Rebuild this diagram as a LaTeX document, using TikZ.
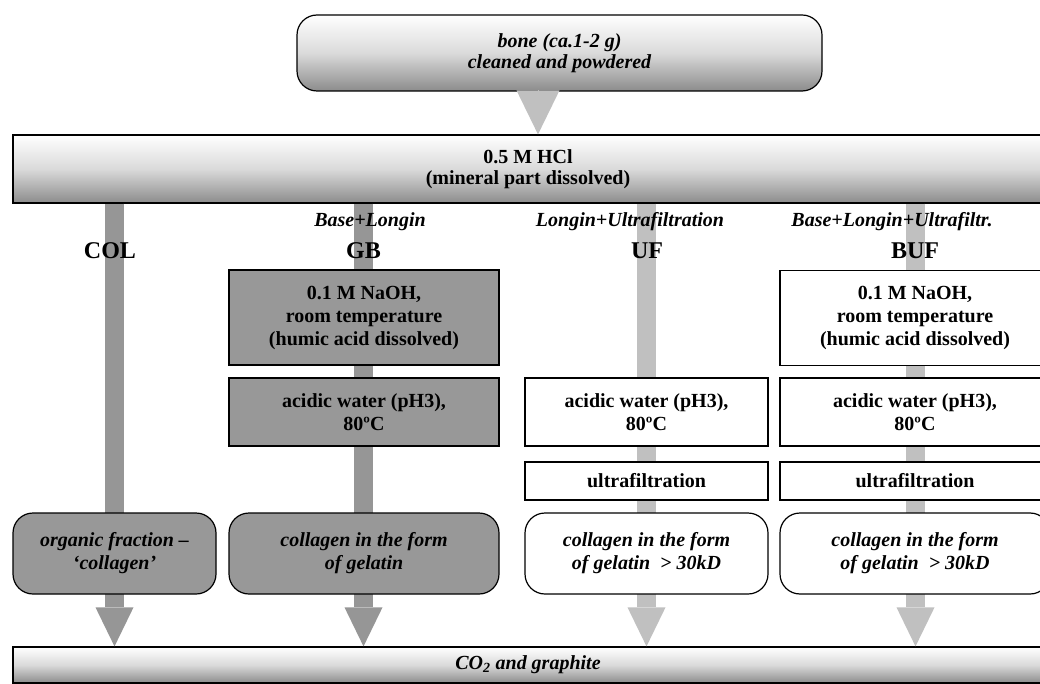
\documentclass[tikz,border=0pt]{standalone}
\usepackage{fontspec}
\setmainfont{Liberation Serif}
\usetikzlibrary{arrows.meta}

\definecolor{stemdark}{RGB}{150,150,150}
\definecolor{stemlight}{RGB}{192,192,192}
\definecolor{boxgray}{RGB}{152,152,152}
\definecolor{shadegray}{RGB}{140,140,140}
\definecolor{shademid}{RGB}{218,218,218}

\tikzset{
  bar/.style={draw,line width=1.2pt,top color=white,bottom color=shadegray,middle color=shademid,
    inner sep=0pt,align=center,font=\bfseries\fontsize{20}{21}\selectfont},
  stepbox/.style={draw,line width=1.2pt,fill=white,minimum height=68pt,inner sep=0pt,
    align=center,font=\bfseries\fontsize{20}{23}\selectfont},
  result/.style={stepbox,rounded corners=20pt,minimum height=81pt,
    font=\bfseries\itshape\fontsize{20}{23}\selectfont},
  tag/.style={anchor=base,inner sep=0pt,font=\bfseries\itshape\fontsize{20}{22}\selectfont},
  code/.style={anchor=base,inner sep=0pt,font=\bfseries\fontsize{24}{26}\selectfont},
  stem/.style={line width=19pt,-{Triangle[length=39pt,width=38pt,line width=0pt]}}
}

\begin{document}
\begin{tikzpicture}[x=1pt,y=-1pt]
  \useasboundingbox (0,0) rectangle (1040,684);
  \clip (0,0) rectangle (1040,684);

  \node[bar,rounded corners=20pt,minimum width=525pt,minimum height=76pt,
    font=\bfseries\itshape\fontsize{20}{21}\selectfont] (bone) at (559.5,53)
    {bone (ca.1-2 g)\\cleaned and powdered};
  \node[bar,minimum width=1030pt,minimum height=68pt] (hcl) at (528,169)
    {0.5 M HCl\\(mineral part dissolved)};
  \node[bar,minimum width=1030pt,minimum height=36pt] (co2) at (528,665)
    {\itshape CO\textsubscript{2} and graphite};

  \coordinate (drop) at (538,0);
  \coordinate (xcol) at (114.5,0);
  \coordinate (xgb) at (363.5,0);
  \coordinate (xuf) at (646.5,0);
  \coordinate (xbuf) at (915.5,0);

  \draw[stemlight,line width=0.5pt,-{Triangle[length=44pt,width=43pt,line width=0pt]}]
    (bone.south -| drop) -- (hcl.north -| drop);
  \foreach \x/\c in {xcol/stemdark,xgb/stemdark,xuf/stemlight,xbuf/stemlight}
    \draw[stem,\c] (hcl.south -| \x) -- (co2.north -| \x);

  \node[tag] (gbtag) at (370,227) {Base+Longin};
  \node[tag] (uftag) at (630,227) {Longin+Ultrafiltration};
  \node[tag] (buftag) at (892,227) {Base+Longin+Ultrafiltr.};
  \node[code] (col) at (110,259) {COL};
  \node[code] (gb) at (363.5,259) {GB};
  \node[code] (uf) at (647,259) {UF};
  \node[code] (buf) at (915,259) {BUF};

  \node[stepbox,fill=boxgray,minimum width=270pt,minimum height=95pt] (gbbase) at (364,317.5)
    {0.1 M NaOH,\\room temperature\\(humic acid dissolved)};
  \node[stepbox,fill=boxgray,minimum width=270pt] (gbacid) at (364,412)
    {acidic water (pH3),\\80ºC};
  \node[stepbox,minimum width=243pt] (ufacid) at (646.5,412)
    {acidic water (pH3),\\80ºC};
  \node[stepbox,minimum width=243pt,minimum height=38pt] (uffilter) at (646.5,481)
    {ultrafiltration};
  \node[stepbox,minimum width=270pt,minimum height=95pt] (bufbase) at (915,318)
    {0.1 M NaOH,\\room temperature\\(humic acid dissolved)};
  \node[stepbox,minimum width=270pt] (bufacid) at (915,412)
    {acidic water (pH3),\\80ºC};
  \node[stepbox,minimum width=270pt,minimum height=38pt] (buffilter) at (915,481)
    {ultrafiltration};

  \node[result,fill=boxgray,minimum width=203pt] (colres) at (114.5,553.5)
    {organic fraction –\\‘collagen’};
  \node[result,fill=boxgray,minimum width=270pt] (gbres) at (364,553.5)
    {collagen in the form\\of gelatin};
  \node[result,minimum width=243pt] (ufres) at (646.5,553.5)
    {collagen in the form\\of gelatin\ \ > 30kD};
  \node[result,minimum width=270pt] (bufres) at (915,553.5)
    {collagen in the form\\of gelatin\ \ > 30kD};
\end{tikzpicture}
\end{document}
